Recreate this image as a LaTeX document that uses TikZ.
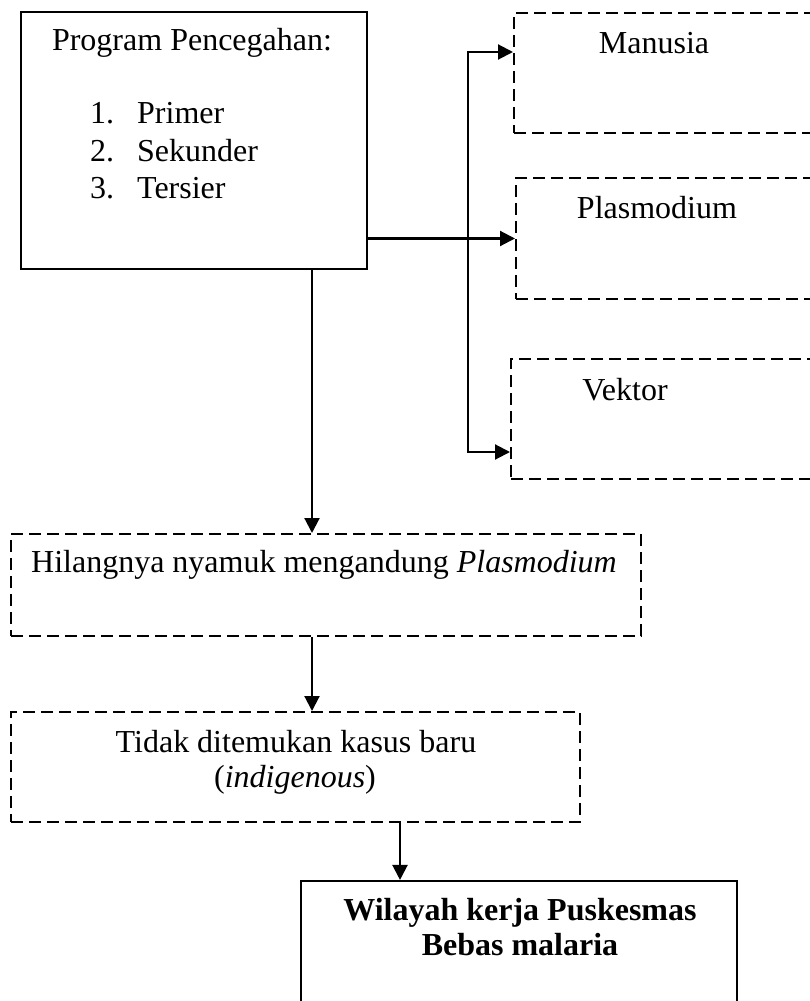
\documentclass[tikz,border=0pt]{standalone}
\usepackage{fontspec}
\setmainfont{Liberation Serif}
\usetikzlibrary{arrows.meta}
\tikzset{
  solidbox/.style={draw, line width=2.1pt, rectangle, inner sep=0pt},
  dashbox/.style={draw, line width=2pt, rectangle, inner sep=0pt, dash pattern=on 12pt off 6pt},
  txt/.style={inner sep=0pt, anchor=base, font=\fontsize{32}{38}\selectfont},
  conn/.style={line width=2.1pt},
  arr/.style={conn, -{Triangle[length=15pt,width=15pt]}}
}
\begin{document}
\begin{tikzpicture}[x=1pt,y=-1pt]
\useasboundingbox (0,0) rectangle (810,1001);
\clip (0,0) rectangle (810,1001);
% boxes
\node[solidbox, minimum width=346pt, minimum height=257pt] (top) at (194,140.5) {};
\node[dashbox, minimum width=316pt, minimum height=120pt] (man) at (672,73) {};
\node[dashbox, minimum width=314pt, minimum height=121pt] (plas) at (673,238.5) {};
\node[dashbox, minimum width=319pt, minimum height=120pt] (vek) at (670.5,419) {};
\node[dashbox, minimum width=630pt, minimum height=102pt] (hil) at (326,585) {};
\node[dashbox, minimum width=569pt, minimum height=110pt] (tid) at (295.5,767) {};
\node[solidbox, minimum width=436pt, minimum height=149pt] (wil) at (519,955.5) {};
% texts
\node[txt] (t0) at (192,50) {Program Pencegahan:};
\node[txt, anchor=base west] (t1) at (90,123) {\makebox[47pt][l]{1.}Primer};
\node[txt, anchor=base west] (t2) at (90,161) {\makebox[47pt][l]{2.}Sekunder};
\node[txt, anchor=base west] (t3) at (90,198) {\makebox[47pt][l]{3.}Tersier};
\node[txt] (tman) at (654,53) {Manusia};
\node[txt] (tplas) at (657,218) {Plasmodium};
\node[txt] (tvek) at (625,400) {Vektor};
\node[txt] (thil) at (324,572) {Hilangnya nyamuk mengandung \textit{Plasmodium}};
\node[txt] (ttid1) at (296,752) {Tidak ditemukan kasus baru};
\node[txt] (ttid2) at (295,787) {(\textit{indigenous})};
\node[txt] (twil1) at (520,920) {\textbf{Wilayah kerja Puskesmas}};
\node[txt] (twil2) at (520,955) {\textbf{Bebas malaria}};
% connectors
\coordinate (j1) at (468,52);
\coordinate (j2) at (468,452);
\coordinate (c1) at (312,0);
\coordinate (c2) at (400,0);
\draw[arr] (top.east |- plas.west) -- (plas.west);
\draw[conn, line cap=rect] (j1) -- (j2);
\draw[arr] (j1) -- (j1 -| man.west);
\draw[arr] (j2) -- (j2 -| vek.west);
\draw[arr] (c1 |- top.south) -- (c1 |- hil.north);
\draw[arr] (c1 |- hil.south) -- (c1 |- tid.north);
\draw[arr] (c2 |- tid.south) -- (c2 |- wil.north);
\end{tikzpicture}
\end{document}
